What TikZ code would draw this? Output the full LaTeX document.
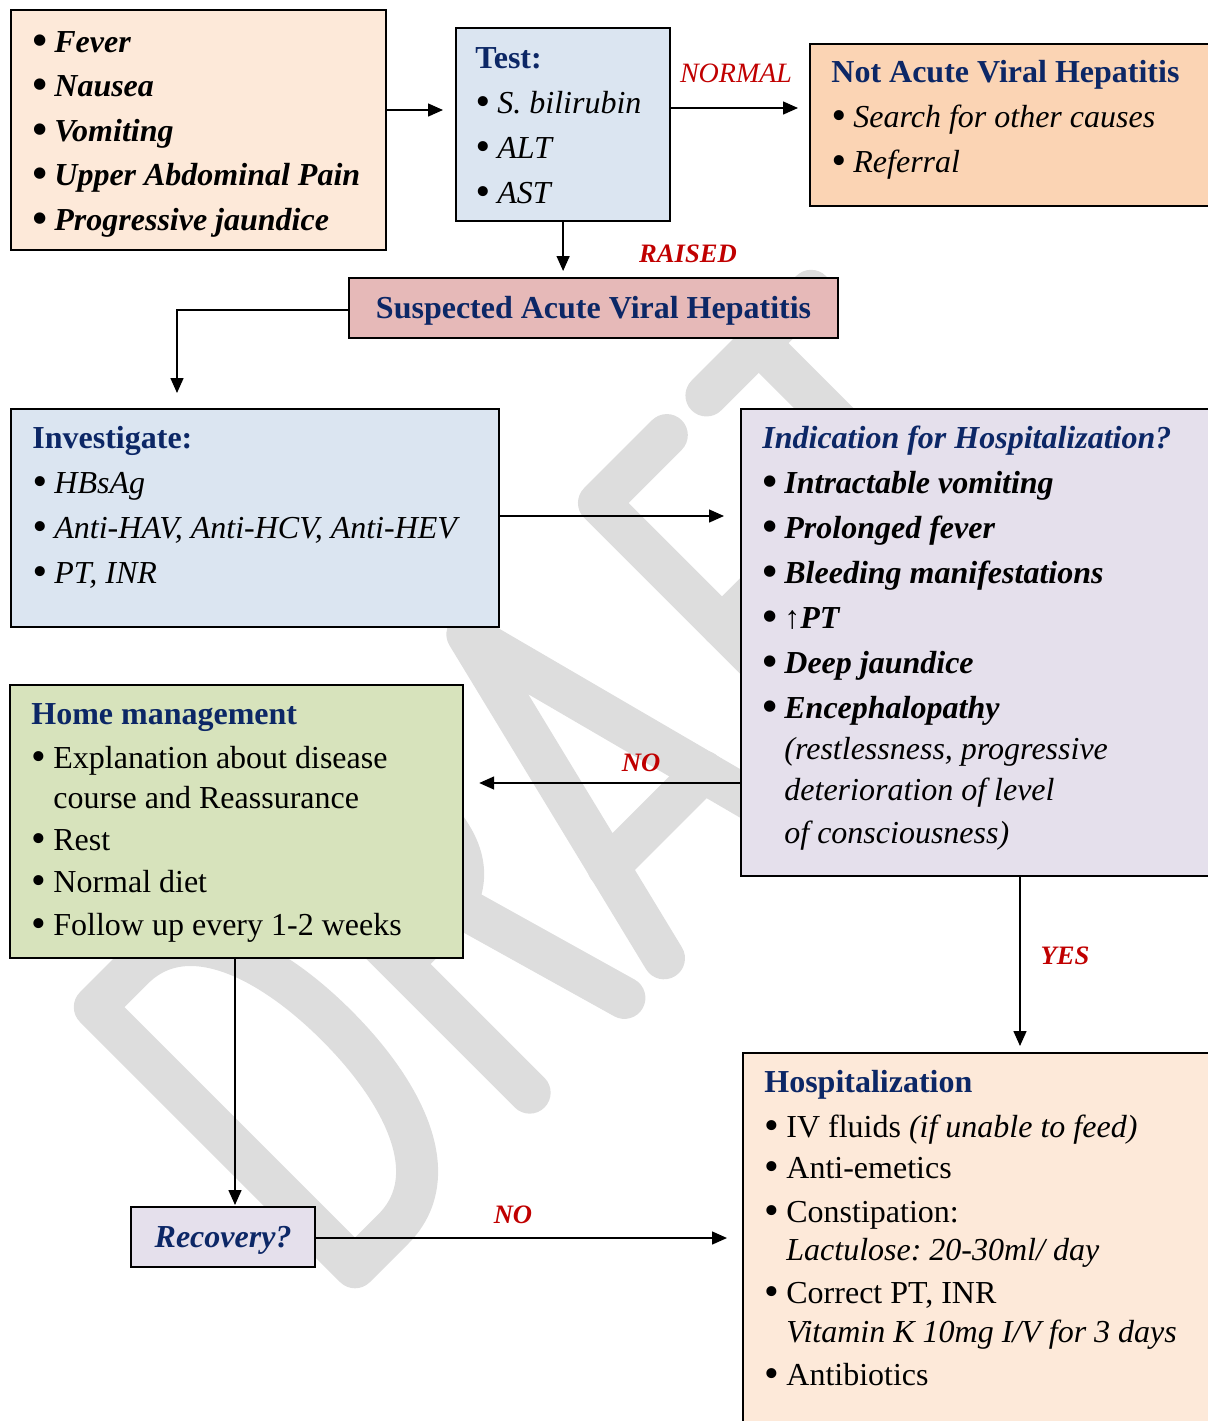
\documentclass[tikz,border=0pt]{standalone}
\usepackage{fontspec}
\usepackage{graphicx}
\setmainfont{Liberation Serif}
\usetikzlibrary{arrows.meta}

\definecolor{peachA}{HTML}{FDE9D9}
\definecolor{peachB}{HTML}{FBD4B4}
\definecolor{paleblue}{HTML}{DBE5F1}
\definecolor{rosefill}{HTML}{E6B9B8}
\definecolor{lavender}{HTML}{E5E0EC}
\definecolor{palegreen}{HTML}{D7E3BC}
\definecolor{navy}{HTML}{0C2766}
\definecolor{labelred}{HTML}{C00000}
\definecolor{wmgray}{HTML}{DDDDDD}

\newlength\bw
\setlength\bw{11pt}
\newcommand\bul{\raisebox{-1pt}{\fontsize{21}{21}\selectfont\textbullet}}
\newcommand\itm[1]{\makebox[\bw][l]{\bul}{#1}}
\newcommand\cnt[1]{\hspace*{\bw}{#1}}
\newcommand\hd[1]{{\color{navy}\bfseries #1}}
\newcommand\blk[2]{\parbox[t]{240pt}{\leavevmode\fontsize{16}{#1}\selectfont\frenchspacing
  \setlength\lineskiplimit{-30pt}\setlength\lineskip{0pt}\raggedright #2}}

\begin{document}
\begin{tikzpicture}[x=0.5pt, y=-0.5pt,
  box/.style={draw=black, line width=1.1pt, rectangle, anchor=north west, inner sep=0pt},
  txt/.style={anchor=base west, inner sep=0pt},
  lbl/.style={anchor=base, inner sep=0pt, text=labelred, font=\fontsize{13.3}{15}\selectfont\bfseries\itshape},
  arr/.style={draw=black, line width=0.75pt, -{Triangle[length=7.5pt,width=6.5pt]}},
  oneline/.style={text=navy, text height=10.6pt, text depth=0pt}]

\useasboundingbox (0,0) rectangle (1208,1421);
\clip (0,0) rectangle (1208,1421);

% watermark lettering, drawn with round-capped strokes along a 45 degree baseline
\begin{scope}[shift={(355,1297)}]
\begin{scope}[x={(0.35355pt,0.35355pt)}, y={(-0.35355pt,0.35355pt)},
  draw=wmgray, line width=21pt, line cap=round, line join=round]
  % D
  \draw (21,21) -- (21,389) -- (75,389) .. controls (150,389) and (179,300) .. (179,205)
        .. controls (179,110) and (150,21) .. (75,21) -- cycle;
  % R
  \draw (268,21) -- (268,389) -- (318,389) .. controls (372,389) and (398,360) .. (398,296)
        .. controls (398,232) and (372,203) .. (318,203) -- (268,203);
  \draw (350,203) -- (402,21);
  % A
  \draw (458,21) -- (548,389) -- (645,21);
  \draw (483,125) -- (618,125);
  % F
  \draw (830,389) -- (734,389) -- (734,21);
  \draw (734,215) -- (815,215);
  % T
  \draw (886,389) -- (1034,389);
  \draw (960,389) -- (960,21);
\end{scope}
\end{scope}

% boxes
\node[box, fill=peachA, minimum width=187.5pt, minimum height=120pt] (sym) at (10,9) {};
\node[box, fill=paleblue, minimum width=107pt, minimum height=96.5pt] (test) at (455,27) {};
\node[box, fill=peachB, minimum width=203.5pt, minimum height=81pt] (notavh) at (809,43) {};
\node[box, fill=rosefill, minimum width=244.5pt, minimum height=30pt, oneline,
      font=\fontsize{16}{19}\selectfont\bfseries] (susp) at (348,277) {Suspected Acute Viral Hepatitis};
\node[box, fill=paleblue, minimum width=244pt, minimum height=109pt] (inv) at (10,408) {};
\node[box, fill=lavender, minimum width=238pt, minimum height=233.5pt] (ind) at (740,408) {};
\node[box, fill=palegreen, minimum width=226.5pt, minimum height=136.5pt] (home) at (9,684) {};
\node[box, fill=lavender, minimum width=92pt, minimum height=30pt, oneline,
      font=\fontsize{16}{19}\selectfont\bfseries\itshape] (rec) at (130,1206) {Recovery?};
\node[box, fill=peachA, minimum width=237pt, minimum height=189pt] (hosp) at (742,1052) {};

% box contents
\node[txt] (symtxt) at (32,52) {\blk{22.25pt}{\bfseries\itshape
  \itm{Fever}\\ \itm{Nausea}\\ \itm{Vomiting}\\ \itm{Upper Abdominal Pain}\\ \itm{Progressive jaundice}}};

\node[txt] (testtxt) at (475,68) {\blk{22.5pt}{\hd{Test:}\\ \itshape
  \itm{S. bilirubin}\\ \itm{ALT}\\ \itm{AST}}};

\node[txt] (notavhtxt) at (831,82) {\blk{22.5pt}{\hd{Not Acute Viral Hepatitis}\\ \itshape
  \itm{Search for other causes}\\ \itm{Referral}}};

\node[txt] (invtxt) at (32,448) {\blk{22.5pt}{\hd{Investigate:}\\ \itshape
  \itm{HBsAg}\\ \itm{Anti-HAV, Anti-HCV, Anti-HEV}\\ \itm{PT, INR}}};

\node[txt] (indtxt) at (762,448) {\blk{22.5pt}{{\color{navy}\bfseries\itshape Indication for Hospitalization?}\\
  \bfseries\itshape
  \itm{Intractable vomiting}\\ \itm{Prolonged fever}\\ \itm{Bleeding manifestations}\\
  \itm{{\mdseries\upshape ↑}PT}\\ \itm{Deep jaundice}\\ \itm{Encephalopathy}\\[-2pt]
  \cnt{\mdseries(restlessness, progressive}\\[-2pt]
  \cnt{\mdseries deterioration of level}\\[-1pt]
  \cnt{\mdseries of consciousness)}}};

\node[txt] (hometxt) at (31,724) {\blk{21pt}{\hd{Home management}\\[1pt]
  \itm{Explanation about disease}\\[-1pt]
  \cnt{course and Reassurance}\\
  \itm{Rest}\\
  \itm{Normal diet}\\[0.5pt]
  \itm{Follow up every 1-2 weeks}}};

\node[txt] (hosptxt) at (764,1092) {\blk{21pt}{\hd{Hospitalization}\\[1.5pt]
  \itm{IV fluids \textit{(if unable to feed)}}\\[-0.5pt]
  \itm{Anti-emetics}\\[1pt]
  \itm{Constipation:}\\[-2pt]
  \cnt{\itshape Lactulose: 20-30ml/ day}\\[0.5pt]
  \itm{Correct PT, INR}\\[-1.5pt]
  \cnt{\itshape Vitamin K 10mg I/V for 3 days}\\[0.5pt]
  \itm{Antibiotics}}};

% connectors
\draw[arr, shorten >=6pt] (sym.east |- 0,110) -- (test.west |- 0,110);
\draw[arr, shorten >=5.5pt] (test.east |- 0,108) -- (notavh.west |- 0,108);
\draw[arr, shorten >=3pt] (test.south) -- (test.south |- susp.north);
\draw[arr, shorten >=7.5pt] (susp.west |- 0,310) -| (inv.north -| 177,0);
\draw[arr, shorten >=8pt] (inv.east |- 0,516) -- (ind.west |- 0,516);
\draw[arr, shorten >=7.5pt] (ind.west |- 0,783) -- (home.east |- 0,783);
\draw[arr, shorten >=3pt] (ind.south -| 1020,0) -- (hosp.north -| 1020,0);
\draw[arr, shorten >=0.5pt] (home.south -| 235,0) -- (rec.north -| 235,0);
\draw[arr, shorten >=7.5pt] (rec.east |- 0,1238) -- (hosp.west |- 0,1238);

% connector labels
\node[lbl, font=\fontsize{14}{16}\selectfont\itshape] (lnormal) at (736,82) {NORMAL};
\node[lbl] (lraised) at (688,262) {RAISED};
\node[lbl] (lnoa) at (641,771) {NO};
\node[lbl] (lyes) at (1065,964) {YES};
\node[lbl] (lnob) at (513,1223) {NO};
\end{tikzpicture}
\end{document}
